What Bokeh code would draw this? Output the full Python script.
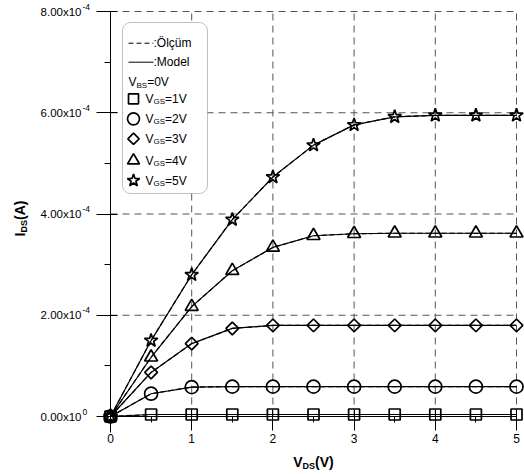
import numpy as np
from bokeh.plotting import figure
from bokeh.models import (LinearAxis, FixedTicker, Label, BoxAnnotation, Range1d,
                          CustomJSTickFormatter)
from bokeh.embed import file_html
from bokeh.resources import INLINE

# ---------------- data ----------------
vds = [0, 0.5, 1, 1.5, 2, 2.5, 3, 3.5, 4, 4.5, 5]
ids_vgs1 = [0, 0.04e-4, 0.04e-4, 0.04e-4, 0.04e-4, 0.04e-4, 0.04e-4, 0.04e-4, 0.04e-4, 0.04e-4, 0.04e-4]
ids_vgs2 = [0, 0.45e-4, 0.58e-4, 0.59e-4, 0.59e-4, 0.59e-4, 0.59e-4, 0.59e-4, 0.59e-4, 0.59e-4, 0.59e-4]
ids_vgs3 = [0, 0.87e-4, 1.44e-4, 1.74e-4, 1.80e-4, 1.80e-4, 1.80e-4, 1.80e-4, 1.80e-4, 1.80e-4, 1.80e-4]
ids_vgs4 = [0, 1.17e-4, 2.17e-4, 2.88e-4, 3.34e-4, 3.57e-4, 3.61e-4, 3.62e-4, 3.62e-4, 3.62e-4, 3.62e-4]
ids_vgs5 = [0, 1.50e-4, 2.80e-4, 3.89e-4, 4.73e-4, 5.36e-4, 5.76e-4, 5.92e-4, 5.95e-4, 5.95e-4, 5.95e-4]

series_labels = ["1V", "2V", "3V", "4V", "5V"]
x_ticks = [0, 1, 2, 3, 4, 5]
x_minor_ticks = [0.5, 1.5, 2.5, 3.5, 4.5]
y_ticks = [0, 2e-4, 4e-4, 6e-4, 8e-4]
y_minor_ticks = [1e-4, 3e-4, 5e-4, 7e-4]
y_tick_mantissa = ["0.00x10", "2.00x10", "4.00x10", "6.00x10", "8.00x10"]
y_tick_exponent = ["0", "-4", "-4", "-4", "-4"]

FONT = "Liberation Sans"
W_FIG, H_FIG = 524, 474

# pixel helpers (used only to place annotations / set the view window)
PX0, PXS = 110.0, 81.2          # x = 0 at px 110, 81.2 px per volt
PY0, PYS = 416.0, 405.0 / 8e-4  # y = 0 at px 416, 8e-4 at px 11


def dx(px):
    return (px - PX0) / PXS


def dy(py):
    return (PY0 - py) / PYS


W = {' ': 278, '(': 333, ')': 333, '-': 333, '.': 278, '=': 584, ':': 278, 'A': 667, 'B': 667,
     'D': 722, 'G': 778, 'I': 278, 'M': 833, 'O': 778, 'S': 667, 'V': 667, 'x': 500, 'd': 556,
     'e': 556, 'l': 222, 'o': 556, 'ç': 500, 'u': 556, 'm': 833, 'Ö': 778}
WB = dict(W)
WB.update({'A': 722})


def tw(s, size, bold=False):
    tab = WB if bold else W
    return sum(tab.get(c, 556) for c in s) * size / 1000.0


p = figure(width=W_FIG, height=H_FIG, title=None,
           x_range=Range1d(dx(0), dx(W_FIG)), y_range=Range1d(dy(H_FIG), dy(0)),
           x_axis_type=None, y_axis_type=None, toolbar_location=None,
           output_backend="svg", min_border=0, min_border_left=0, min_border_right=0,
           min_border_top=0, min_border_bottom=0)
p.outline_line_color = None
p.background_fill_color = "white"
p.border_fill_color = "white"

# dashed grid lines (between the axes' extents), below everything
nx = len(x_ticks) - 1
ny = len(y_ticks) - 1
p.segment(x0=x_ticks[1:], x1=x_ticks[1:], y0=[y_ticks[0]] * nx, y1=[y_ticks[-1]] * nx,
          line_color="#555555", line_width=1, line_dash="7 5", level="image")
p.segment(x0=[x_ticks[0]] * ny, x1=[x_ticks[-1]] * ny, y0=y_ticks[1:], y1=y_ticks[1:],
          line_color="#555555", line_width=1, line_dash="7 5", level="image")

# axes crossing at the origin
Y_LABEL_RIGHT = 81  # px where the mantissa part of the y tick labels ends
yfmt = CustomJSTickFormatter(args=dict(yt=y_ticks, yl=y_tick_mantissa),
                             code="const i = yt.indexOf(tick); return i >= 0 ? yl[i] : '';")
yax = LinearAxis(fixed_location=0, bounds=(dy(432), y_ticks[-1]),
                 ticker=FixedTicker(ticks=y_ticks, minor_ticks=y_minor_ticks),
                 formatter=yfmt,
                 major_label_text_font=FONT, major_label_text_font_size="11.5px",
                 major_label_text_color="black", major_label_standoff=int(PX0 - 14 - Y_LABEL_RIGHT),
                 axis_line_color="black", axis_line_width=1,
                 major_tick_out=14, major_tick_in=7, minor_tick_out=6, minor_tick_in=0,
                 major_tick_line_color="black", minor_tick_line_color="black")
p.add_layout(yax, "left")
xax = LinearAxis(fixed_location=0, bounds=(x_ticks[0], x_ticks[-1]),
                 ticker=FixedTicker(ticks=x_ticks, minor_ticks=x_minor_ticks),
                 major_label_text_font=FONT, major_label_text_font_size="12px",
                 major_label_text_color="black", major_label_standoff=3,
                 axis_line_color="black", axis_line_width=1,
                 major_tick_out=14, major_tick_in=7, minor_tick_out=6, minor_tick_in=0,
                 major_tick_line_color="black", minor_tick_line_color="black")
p.add_layout(xax, "below")

# legend box (above grid, below glyphs)
box = BoxAnnotation(left=dx(122), right=dx(207), top=dy(22), bottom=dy(193),
                    fill_color="white", fill_alpha=1.0, line_color="#333333", line_width=1,
                    border_radius=8, level="underlay")
p.add_layout(box)

# data
all_series = [ids_vgs1, ids_vgs2, ids_vgs3, ids_vgs4, ids_vgs5]
markers = [
    dict(marker="square", size=11, angle=0.0),
    dict(marker="circle", size=13, angle=0.0),
    dict(marker="square", size=9, angle=np.pi / 4),
    dict(marker="triangle", size=13, angle=0.0),
    dict(marker="star", size=14, angle=0.0),
]
for ids, mk in zip(all_series, markers):
    p.line(vds, ids, line_color="black", line_width=1.2)
    p.line(vds, ids, line_color="black", line_width=1.2, line_dash="5 3")
    p.scatter(vds, ids, marker=mk["marker"], size=mk["size"], angle=mk["angle"],
              fill_color=None, line_color="black", line_width=1.7)


def lab(text, px, py, size, bold=False, align="left", angle=0.0):
    p.add_layout(Label(x=dx(px), y=dy(py), text=text, text_font=FONT,
                       text_font_size=f"{size}px", text_font_style="bold" if bold else "normal",
                       text_align=align, text_baseline="middle", text_color="black",
                       angle=angle))


# y tick label exponents (superscripts), placed after the axis' own mantissa labels
for v, ex in zip(y_ticks, y_tick_exponent):
    lab(ex, Y_LABEL_RIGHT + 1, PY0 - v * PYS - 5, 8.5)

# x axis title  V_DS(V)
parts = [("V", 14, 0), ("DS", 9, 4), ("(V)", 14, 0)]
tot = sum(tw(t, s, True) for t, s, _ in parts)
cx = PX0 + 2.5 * PXS - tot / 2
for t, s, off in parts:
    lab(t, cx, 461 + off, s, bold=True)
    cx += tw(t, s, True)

# y axis title  I_DS(A) (rotated)
parts = [("I", 14, 0), ("DS", 9, 4), ("(A)", 14, 0)]
tot = sum(tw(t, s, True) for t, s, _ in parts)
cy = 218 + tot / 2
for t, s, off in parts:
    lab(t, 19 + off, cy, s, bold=True, angle=np.pi / 2)
    cy -= tw(t, s, True)

# legend contents
p.segment(x0=[dx(128)], y0=[dy(42.7)], x1=[dx(153)], y1=[dy(42.7)], line_color="black",
          line_width=1, line_dash="5 3")
lab(":Ölçüm", 153, 42.7, 12)
p.segment(x0=[dx(128)], y0=[dy(61.7)], x1=[dx(153)], y1=[dy(61.7)], line_color="black",
          line_width=1)
lab(":Model", 153, 61.7, 12)

cx = 128
for t, s, off in [("V", 12, 0), ("BS", 8, 3), ("=0V", 12, 0)]:
    lab(t, cx, 81.7 + off, s)
    cx += tw(t, s)

leg_y = [98.3, 118.3, 138.3, 160, 180]
for lbl, mk, ly in zip(series_labels, markers, leg_y):
    p.scatter([dx(133)], [dy(ly)], marker=mk["marker"], size=mk["size"] - 1, angle=mk["angle"],
              fill_color=None, line_color="black", line_width=1.7)
    cx = 145
    for t, s, off in [("V", 12, 0), ("GS", 8, 3), ("=" + lbl, 12, 0)]:
        lab(t, cx, ly + off, s)
        cx += tw(t, s)

open("out.html", "w").write(file_html(p, INLINE))
